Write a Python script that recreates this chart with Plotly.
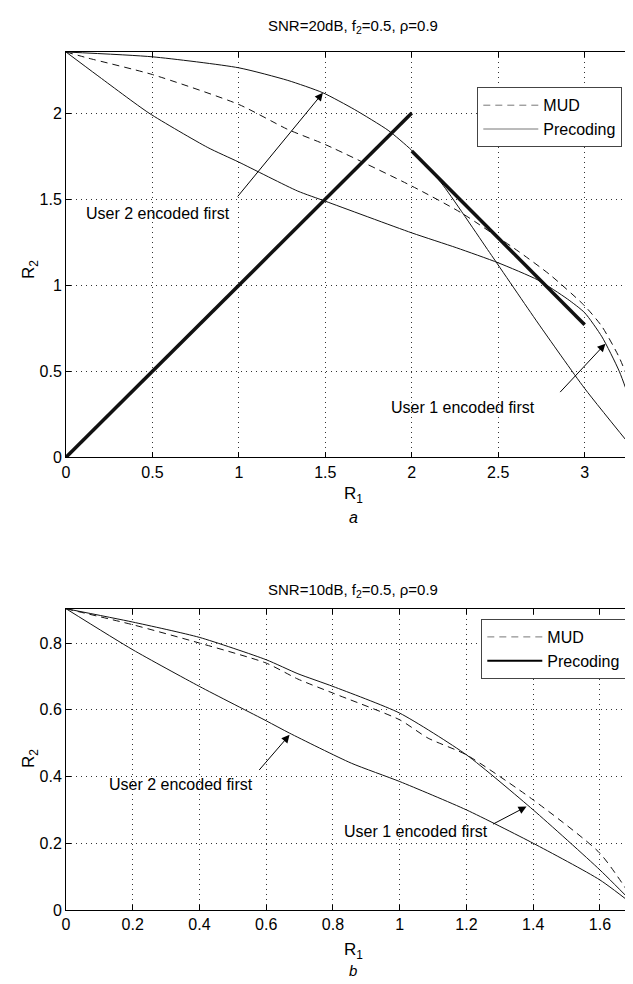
import plotly.graph_objects as go

# ---------------- data: top panel (SNR=20dB) ----------------
a_up_x = [0.0, 0.5, 1.0, 1.283, 1.486, 1.67, 1.863, 1.998, 2.17, 2.45, 2.73, 3.0, 3.32]
a_up_y = [2.355, 2.327, 2.263, 2.19, 2.118, 2.02, 1.90, 1.785, 1.595, 1.19, 0.78, 0.40, 0.0]

a_lo_x = [0.0, 0.18, 0.48, 0.82, 1.0, 1.34, 1.5, 2.0, 2.26, 2.5, 2.73, 2.9, 3.0, 3.1, 3.2, 3.27, 3.32]
a_lo_y = [2.355, 2.22, 2.0, 1.80, 1.715, 1.547, 1.488, 1.304, 1.217, 1.13, 1.03, 0.92, 0.84, 0.70, 0.50, 0.30, 0.0]

a_mud_x = [0.0, 0.126, 0.5, 1.0, 1.283, 1.5, 2.0, 2.287, 2.615, 2.8, 3.0, 3.1, 3.2, 3.27, 3.3, 3.32]
a_mud_y = [2.355, 2.32, 2.224, 2.05, 1.905, 1.817, 1.576, 1.42, 1.198, 1.06, 0.88, 0.76, 0.58, 0.40, 0.25, 0.0]

a_thick1_x = [0.0, 2.0]
a_thick1_y = [0.0, 2.0]
a_thick2_x = [2.0, 3.0]
a_thick2_y = [1.78, 0.77]

# ---------------- data: bottom panel (SNR=10dB) ----------------
b_up_x = [0.0, 0.2, 0.4, 0.6, 0.695, 0.8, 1.0, 1.2, 1.4, 1.6, 1.72]
b_up_y = [0.903, 0.863, 0.817, 0.75, 0.708, 0.67, 0.59, 0.465, 0.30, 0.12, 0.0]

b_mud_x = [0.0, 0.2, 0.4, 0.6, 0.695, 0.8, 1.0, 1.085, 1.2, 1.4, 1.6, 1.72]
b_mud_y = [0.903, 0.855, 0.80, 0.74, 0.692, 0.65, 0.57, 0.515, 0.465, 0.33, 0.17, 0.0]

b_lo_x = [0.0, 0.2, 0.4, 0.6, 0.67, 0.855, 1.0, 1.2, 1.4, 1.6, 1.72]
b_lo_y = [0.903, 0.78, 0.67, 0.567, 0.53, 0.44, 0.385, 0.30, 0.20, 0.09, 0.0]

a_xticks = [0, 0.5, 1, 1.5, 2, 2.5, 3]
a_yticks = [0, 0.5, 1, 1.5, 2]
b_xticks = [0, 0.2, 0.4, 0.6, 0.8, 1, 1.2, 1.4, 1.6]
b_yticks = [0, 0.2, 0.4, 0.6, 0.8]

FONT = "Liberation Sans, Arial, Helvetica, sans-serif"
W, H = 633, 984
ML, MR, MT, MB = 58, 1, 44, 82

fig = go.Figure()

def line(x, y, xa, ya, width=1.0, dash="solid", color="#111", shape="spline"):
    fig.add_trace(go.Scatter(x=x, y=y, xaxis=xa, yaxis=ya, mode="lines",
                             line=dict(color=color, width=width, dash=dash, shape=shape, smoothing=0.6),
                             showlegend=False, hoverinfo="skip"))

DASH = "7px,5px"
# top
line(a_mud_x, a_mud_y, "x", "y", 1.0, DASH)
line(a_up_x, a_up_y, "x", "y", 1.0)
line(a_lo_x, a_lo_y, "x", "y", 1.0)
line(a_thick1_x, a_thick1_y, "x", "y", 3.5, shape="linear")
line(a_thick2_x, a_thick2_y, "x", "y", 3.5, shape="linear")
# bottom
line(b_mud_x, b_mud_y, "x2", "y2", 1.0, DASH)
line(b_up_x, b_up_y, "x2", "y2", 1.0)
line(b_lo_x, b_lo_y, "x2", "y2", 1.0)

# legend entries
fig.add_trace(go.Scatter(x=[None], y=[None], xaxis="x", yaxis="y", mode="lines", name="MUD",
                         line=dict(color="#777", width=1, dash=DASH), legend="legend"))
fig.add_trace(go.Scatter(x=[None], y=[None], xaxis="x", yaxis="y", mode="lines", name="Precoding",
                         line=dict(color="#777", width=1), legend="legend"))
fig.add_trace(go.Scatter(x=[None], y=[None], xaxis="x2", yaxis="y2", mode="lines", name="MUD",
                         line=dict(color="#777", width=1, dash=DASH), legend="legend2"))
fig.add_trace(go.Scatter(x=[None], y=[None], xaxis="x2", yaxis="y2", mode="lines", name="Precoding",
                         line=dict(color="#000", width=2), legend="legend2"))

ph = H - MT - MB
def frac_y(py):
    return (H - MB - py) / ph
pw = W - ML - MR
def frac_x(px):
    return (px - ML) / pw

top_dom = [frac_y(449.3), 1.0]
bot_dom = [0.0, frac_y(600.7)]

axcommon = dict(showline=True, linecolor="#000", linewidth=1, mirror="allticks",
                ticks="inside", ticklen=5, tickcolor="#000",
                showgrid=True, gridcolor="#333", griddash="1px,4px", gridwidth=1,
                zeroline=False, tickfont=dict(family=FONT, size=16, color="#000"))

fig.update_layout(
    width=W, height=H, margin=dict(l=ML, r=MR, t=MT, b=MB),
    paper_bgcolor="white", plot_bgcolor="white",
    font=dict(family=FONT, size=16, color="#000"),
    xaxis=dict(domain=[0, 1], anchor="y", range=[0, 3.32], tickvals=a_xticks,
               ticktext=[str(v) for v in a_xticks], **axcommon),
    yaxis=dict(domain=top_dom, anchor="x", range=[0, 2.355], tickvals=a_yticks,
               ticktext=[str(v) for v in a_yticks], **axcommon),
    xaxis2=dict(domain=[0, 1], anchor="y2", range=[0, 1.72], tickvals=b_xticks,
                ticktext=[("%g" % v) for v in b_xticks], **axcommon),
    yaxis2=dict(domain=bot_dom, anchor="x2", range=[0, 0.903], tickvals=b_yticks,
                ticktext=[("%g" % v) for v in b_yticks], **axcommon),
    legend=dict(x=frac_x(469.3), y=frac_y(79.3), xanchor="left", yanchor="top",
                bgcolor="white", bordercolor="#444", borderwidth=1,
                font=dict(family=FONT, size=16), itemwidth=55, tracegroupgap=0),
    legend2=dict(x=frac_x(473.3), y=frac_y(611), xanchor="left", yanchor="top",
                 bgcolor="white", bordercolor="#444", borderwidth=1,
                 font=dict(family=FONT, size=16), itemwidth=55, tracegroupgap=0),
)

ann = []
def txt(x, y, s, xref="paper", yref="paper", xanchor="center", yanchor="middle", size=16, angle=0):
    ann.append(dict(x=x, y=y, xref=xref, yref=yref, text=s, showarrow=False,
                    xanchor=xanchor, yanchor=yanchor, textangle=angle,
                    font=dict(family=FONT, size=size, color="#000")))

def arrow(xr, yr, tx, ty, hx, hy):
    ann.append(dict(x=hx, y=hy, ax=tx, ay=ty, xref=xr, yref=yr, axref=xr, ayref=yr,
                    text="", showarrow=True, arrowhead=2, arrowsize=1.6, arrowwidth=1,
                    arrowcolor="#000", standoff=0, startstandoff=0))

cx = frac_x((ML + W - MR) / 2)
# titles
txt(cx, frac_y(18), "SNR=20dB, f<sub>2</sub>=0.5, ρ=0.9", size=15)
txt(cx, frac_y(582), "SNR=10dB, f<sub>2</sub>=0.5, ρ=0.9", size=15)
# axis labels
txt(cx, frac_y(487), "R<sub>1</sub>", size=17)
txt(cx, frac_y(510), "<i>a</i>", size=16)
txt(cx, frac_y(943), "R<sub>1</sub>", size=17)
txt(cx, frac_y(962), "<i>b</i>", size=15)
txt(frac_x(22), frac_y(262), "R<sub>2</sub>", size=17, angle=-90)
txt(frac_x(22), frac_y(751), "R<sub>2</sub>", size=17, angle=-90)

# panel a annotations
txt(0.53, 1.419, "User 2 encoded first", xref="x", yref="y")
arrow("x", "y", 0.986, 1.507, 1.486, 2.118)
txt(1.87, 0.287, "User 1 encoded first", xref="x", yref="y", xanchor="left")
arrow("x", "y", 2.85, 0.37, 3.12, 0.66)

# panel b annotations
txt(0.565, 0.375, "User 2 encoded first", xref="x2", yref="y2", xanchor="right")
arrow("x2", "y2", 0.575, 0.415, 0.67, 0.525)
txt(1.27, 0.235, "User 1 encoded first", xref="x2", yref="y2", xanchor="right")
arrow("x2", "y2", 1.275, 0.255, 1.38, 0.31)

fig.update_layout(annotations=ann)
fig.write_html("out.html")
